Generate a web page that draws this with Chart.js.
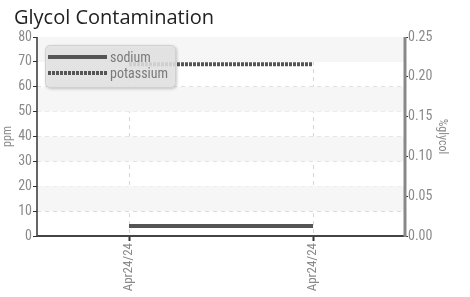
<!DOCTYPE html>
<html>
<head>
<meta charset="utf-8">
<script src="https://cdn.jsdelivr.net/npm/chart.js@4/dist/chart.umd.min.js"></script>
<style>
  html, body { margin: 0; padding: 0; background: #fff; }
  #wrap { width: 470px; height: 297px; position: relative; }
</style>
</head>
<body>
<div id="wrap"><canvas id="c" width="470" height="297"></canvas></div>
<script>
const chartTitle = 'Glycol Contamination';
const categories = ['Apr24/24', 'Apr24/24'];
const sodium = [4, 4];
const potassium = [69, 69];
const ppmTicks = [0, 10, 20, 30, 40, 50, 60, 70, 80];
const glycolTicks = [0, 0.05, 0.10, 0.15, 0.20, 0.25];

function hasFont(name) {
  const c = document.createElement('canvas').getContext('2d');
  c.font = "20px monospace";
  const a = c.measureText('Apr24/24 mmmWWW').width;
  c.font = "20px '" + name + "', monospace";
  const b = c.measureText('Apr24/24 mmmWWW').width;
  return Math.abs(a - b) > 0.5;
}
const narrow = hasFont('Roboto Condensed') ? 'Roboto Condensed'
             : hasFont('Liberation Sans Narrow') ? 'Liberation Sans Narrow' : null;
const tickFamily = narrow ? "'" + narrow + "', Roboto, sans-serif" : "Roboto, sans-serif";
const tickFont = { family: tickFamily, size: narrow ? 14 : 13 };
const xTickFont = { family: tickFamily, size: narrow ? 13 : 12 };
const tickColor = '#8a8a8a';

const bandsPlugin = {
  id: 'bands',
  beforeDatasetsDraw(chart) {
    const { ctx, chartArea } = chart;
    const y = chart.scales.y;
    ctx.save();
    ctx.fillStyle = '#f6f6f6';
    for (let i = 1; i + 1 < ppmTicks.length; i += 2) {
      const top = y.getPixelForValue(ppmTicks[i + 1]);
      const bot = y.getPixelForValue(ppmTicks[i]);
      ctx.fillRect(chartArea.left, top, chartArea.right - chartArea.left, bot - top);
    }
    ctx.restore();
  }
};

const axesPlugin = {
  id: 'axesLines',
  afterDatasetsDraw(chart) {
    const { ctx, chartArea: a } = chart;
    ctx.save();
    ctx.setLineDash([]);
    ctx.lineCap = 'butt';
    ctx.strokeStyle = '#333';
    ctx.lineWidth = 1.5;
    ctx.beginPath(); ctx.moveTo(a.left, a.top); ctx.lineTo(a.left, a.bottom); ctx.stroke();
    ctx.strokeStyle = '#444';
    ctx.lineWidth = 2;
    ctx.beginPath(); ctx.moveTo(a.left, a.bottom); ctx.lineTo(a.right, a.bottom); ctx.stroke();
    ctx.strokeStyle = '#888';
    ctx.lineWidth = 3;
    ctx.beginPath(); ctx.moveTo(a.right, a.top); ctx.lineTo(a.right, a.bottom + 1); ctx.stroke();
    ctx.restore();
  }
};

const titleLegendPlugin = {
  id: 'titleLegend',
  afterDraw(chart) {
    const { ctx, chartArea } = chart;
    ctx.save();
    ctx.font = "20px 'Open Sans', 'Noto Sans', sans-serif";
    ctx.fillStyle = '#222';
    ctx.textBaseline = 'alphabetic';
    ctx.textAlign = 'left';
    ctx.fillText(chartTitle, 14, 24);
    const bx = chartArea.left + 8, by = chartArea.top + 8, bw = 131, bh = 43, r = 5;
    ctx.save();
    ctx.shadowColor = 'rgba(0,0,0,0.25)';
    ctx.shadowBlur = 3;
    ctx.shadowOffsetX = 1;
    ctx.shadowOffsetY = 1;
    ctx.beginPath();
    ctx.roundRect(bx, by, bw, bh, r);
    ctx.fillStyle = 'rgba(232,232,232,0.85)';
    ctx.fill();
    ctx.restore();
    ctx.beginPath();
    ctx.roundRect(bx + 0.5, by + 0.5, bw - 1, bh - 1, r);
    ctx.strokeStyle = '#d0d0d0';
    ctx.lineWidth = 1;
    ctx.stroke();
    chart.data.datasets.forEach((ds, i) => {
      const ly = by + 12 + i * 16;
      ctx.beginPath();
      ctx.setLineDash(ds.borderDash || []);
      ctx.lineWidth = ds.borderWidth;
      ctx.strokeStyle = ds.borderColor;
      ctx.moveTo(bx + 3, ly);
      ctx.lineTo(bx + 62, ly);
      ctx.stroke();
      ctx.setLineDash([]);
      ctx.font = tickFont.size + "px " + tickFont.family;
      ctx.fillStyle = '#7a7a7a';
      ctx.textBaseline = 'middle';
      ctx.fillText(ds.label, bx + 65, ly + 1);
    });
    ctx.restore();
  }
};

new Chart(document.getElementById('c'), {
  type: 'line',
  data: {
    labels: categories,
    datasets: [
      { label: 'sodium', data: sodium, yAxisID: 'y', borderColor: '#555', backgroundColor: '#555',
        borderWidth: 4, pointRadius: 0, borderCapStyle: 'butt', fill: false },
      { label: 'potassium', data: potassium, yAxisID: 'y', borderColor: '#555', backgroundColor: '#555',
        borderWidth: 4, borderDash: [3, 1], pointRadius: 0, borderCapStyle: 'butt', fill: false }
    ]
  },
  options: {
    responsive: false,
    animation: false,
    layout: { padding: { top: 37, left: 0, right: 0, bottom: 0 } },
    plugins: { legend: { display: false }, title: { display: false }, tooltip: { enabled: false } },
    scales: {
      x: {
        type: 'category',
        offset: true,
        grid: { offset: false, color: '#d8d8d8', drawTicks: true, tickLength: 5, tickColor: '#333', tickWidth: 2, tickBorderDash: [] },
        border: { display: false, dash: [4, 4] },
        ticks: { color: tickColor, font: xTickFont, minRotation: 90, maxRotation: 90, padding: 2, autoSkip: false },
        afterFit(s) { s.height = 61; }
      },
      y: {
        position: 'left',
        min: 0, max: 80,
        afterBuildTicks(s) { s.ticks = ppmTicks.map(v => ({ value: v })); },
        grid: { color: '#d8d8d8', drawTicks: true, tickLength: 4, tickColor: '#333', tickWidth: 1, tickBorderDash: [] },
        border: { display: false, dash: [4, 4] },
        ticks: { color: tickColor, font: tickFont, padding: 1 },
        title: { display: true, text: 'ppm', color: tickColor, font: { family: tickFamily, size: 12 }, padding: { top: 1, bottom: 0 } },
        afterFit(s) { s.width = 37; }
      },
      y1: {
        position: 'right',
        display: true,
        min: 0, max: 0.25,
        afterBuildTicks(s) { s.ticks = glycolTicks.map(v => ({ value: v })); },
        grid: { drawOnChartArea: false, drawTicks: true, tickLength: 3, tickColor: '#333', tickWidth: 1 },
        border: { display: false },
        ticks: { color: tickColor, font: tickFont, padding: 0, callback: v => Number(v).toFixed(2) },
        title: { display: true, text: '%glycol', color: tickColor, font: { family: tickFamily, size: 12 }, padding: { top: 21, bottom: 0 } },
        afterFit(s) { s.width = 65; }
      }
    }
  },
  plugins: [bandsPlugin, axesPlugin, titleLegendPlugin]
});
</script>
</body>
</html>
